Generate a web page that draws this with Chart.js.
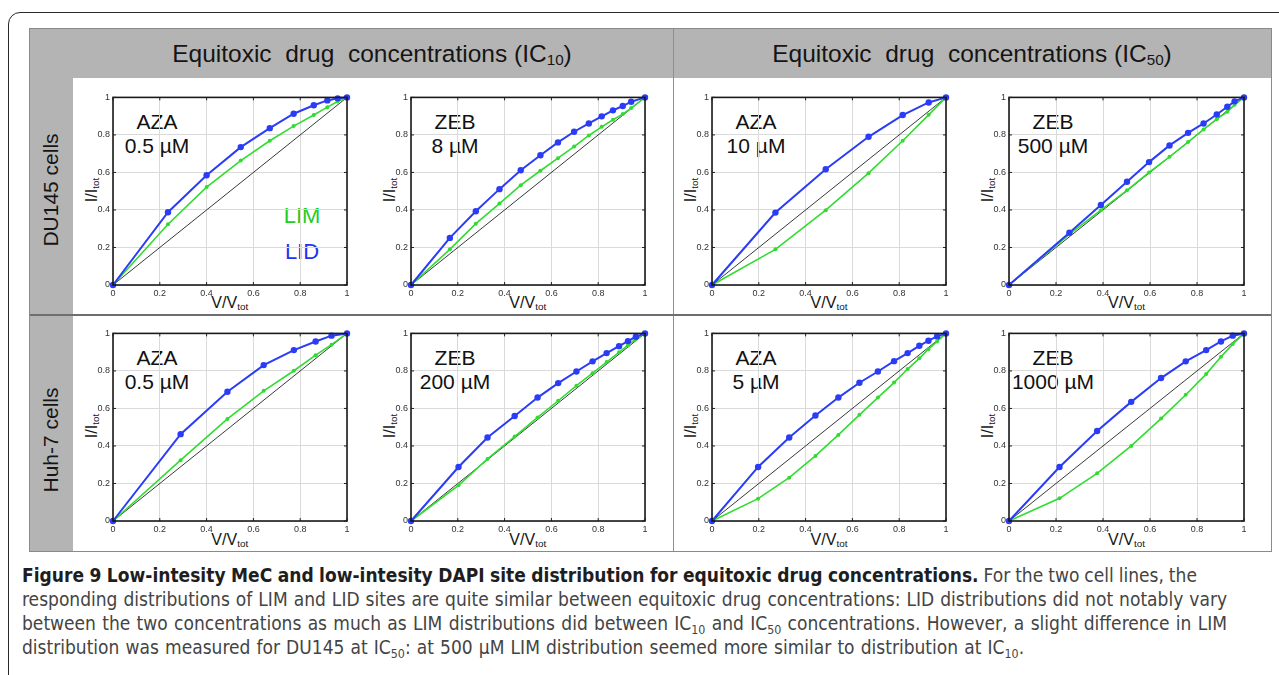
<!DOCTYPE html>
<html>
<head>
<meta charset="utf-8">
<script src="https://cdn.jsdelivr.net/npm/chart.js@4.4.1/dist/chart.umd.min.js"></script>
<style>
  html, body { margin: 0; padding: 0; background: #fff; }
  body { width: 1279px; height: 675px; position: relative; overflow: hidden; font-family: "Liberation Sans", Arial, sans-serif; }
  .abs { position: absolute; }
  #outer { left: 8px; top: 12px; width: 1300px; height: 700px; border: 1.5px solid #2a2a2a; border-radius: 12px; }
  #frame { left: 29px; top: 28px; width: 1243px; height: 524px; border: 1px solid #8a8a8a; box-sizing: border-box; background: #fff; }
  .band { background: #b4b4b4; }
  .hdr { font-size: 24.5px; color: #151515; white-space: nowrap; transform: translate(-50%, -50%); }
  .hdr sub, .axt sub { font-size: 0.62em; vertical-align: -0.25em; }
  .rowlab { font-size: 21px; color: #151515; white-space: nowrap; transform: translate(-50%, -50%) rotate(-90deg); }
  .axt { font-size: 16px; color: #151515; white-space: nowrap; transform: translate(-50%, -50%); }
  .axt.y { transform: translate(-50%, -50%) rotate(-90deg); }
  .note { font-size: 21px; color: #111; white-space: nowrap; transform: translateX(-50%); line-height: 24px; text-align: center; }
  .leg { font-size: 22px; white-space: nowrap; transform: translate(-50%, -50%); }
  .cap { left: 22px; height: 24px; line-height: 24px; white-space: nowrap; color: #444;
         font-family: "DejaVu Sans Condensed", "Liberation Sans Narrow", sans-serif; font-size: 19px; }
  .cap b { color: #1e1e1e; }
  .cap sub { font-size: 0.65em; vertical-align: -0.3em; line-height: 0; }
  canvas { position: absolute; }
</style>
</head>
<body>
<div id="outer" class="abs"></div>
<div id="frame" class="abs"></div>
<div class="abs band" style="left:30px; top:29px; width:1241px; height:49px;"></div>
<div class="abs band" style="left:30px; top:29px; width:43px; height:522px;"></div>
<div class="abs" style="left:673px; top:29px; width:1px; height:522px; background:#8f8f8f;"></div>
<div class="abs" style="left:30px; top:314px; width:1241px; height:2px; background:#6e6e6e;"></div>
<div id="labels"></div>

<script>
// column headers and row labels
const headers = ['Equitoxic&nbsp; drug&nbsp; concentrations (IC<sub>10</sub>)', 'Equitoxic&nbsp; drug&nbsp; concentrations (IC<sub>50</sub>)'];
const cellLines = ['DU145 cells', 'Huh-7 cells'];
const drugs = ['AZA', 'ZEB', 'AZA', 'ZEB', 'AZA', 'ZEB', 'AZA', 'ZEB'];
const doses = ['0.5 µM', '8 µM', '10 µM', '500 µM', '0.5 µM', '200 µM', '5 µM', '1000 µM'];
const seriesNames = ['LIM', 'LID'];
const tickValues = [0, 0.2, 0.4, 0.6, 0.8, 1];

// reference diagonal
const diagX = [0, 1];
const diagY = [0, 1];

// DU145, AZA 0.5 µM (IC10)
const duAzaLowX   = [0, 0.235, 0.40, 0.546, 0.670, 0.772, 0.858, 0.916, 0.960, 1];
const duAzaLowLid = [0, 0.388, 0.585, 0.735, 0.836, 0.913, 0.958, 0.984, 0.995, 1];
const duAzaLowLim = [0, 0.324, 0.522, 0.663, 0.769, 0.847, 0.906, 0.948, 0.978, 1];

// DU145, ZEB 8 µM (IC10)
const duZebLowX   = [0, 0.166, 0.277, 0.378, 0.469, 0.553, 0.628, 0.697, 0.760, 0.815, 0.863, 0.905, 0.941, 1];
const duZebLowLid = [0, 0.251, 0.393, 0.511, 0.612, 0.692, 0.760, 0.817, 0.861, 0.899, 0.931, 0.954, 0.977, 1];
const duZebLowLim = [0, 0.190, 0.327, 0.434, 0.532, 0.609, 0.676, 0.738, 0.797, 0.843, 0.881, 0.911, 0.943, 1];

// DU145, AZA 10 µM (IC50)
const duAzaHighX   = [0, 0.271, 0.486, 0.669, 0.815, 0.926, 1];
const duAzaHighLid = [0, 0.386, 0.617, 0.790, 0.906, 0.973, 1];
const duAzaHighLim = [0, 0.190, 0.399, 0.596, 0.769, 0.907, 1];

// DU145, ZEB 500 µM (IC50)
const duZebHighX   = [0, 0.257, 0.391, 0.502, 0.596, 0.683, 0.762, 0.828, 0.884, 0.929, 0.960, 1];
const duZebHighLid = [0, 0.279, 0.427, 0.550, 0.655, 0.744, 0.811, 0.861, 0.909, 0.950, 0.979, 1];
const duZebHighLim = [0, 0.270, 0.399, 0.505, 0.600, 0.683, 0.762, 0.829, 0.884, 0.923, 0.961, 1];

// Huh-7, AZA 0.5 µM (IC10)
const huAzaLowX   = [0, 0.289, 0.489, 0.644, 0.773, 0.866, 0.934, 1];
const huAzaLowLid = [0, 0.463, 0.689, 0.831, 0.911, 0.957, 0.988, 1];
const huAzaLowLim = [0, 0.324, 0.544, 0.694, 0.801, 0.884, 0.940, 1];

// Huh-7, ZEB 200 µM (IC10)
const huZebLowX   = [0, 0.203, 0.327, 0.443, 0.541, 0.629, 0.707, 0.776, 0.836, 0.889, 0.927, 0.961, 1];
const huZebLowLid = [0, 0.288, 0.445, 0.560, 0.658, 0.735, 0.797, 0.851, 0.895, 0.932, 0.959, 0.982, 1];
const huZebLowLim = [0, 0.190, 0.331, 0.450, 0.552, 0.641, 0.721, 0.788, 0.847, 0.899, 0.937, 0.970, 1];

// Huh-7, AZA 5 µM (IC50)
const huAzaHighX   = [0, 0.197, 0.330, 0.442, 0.540, 0.630, 0.709, 0.778, 0.836, 0.886, 0.925, 0.962, 1];
const huAzaHighLid = [0, 0.288, 0.445, 0.562, 0.658, 0.737, 0.797, 0.852, 0.895, 0.934, 0.961, 0.984, 1];
const huAzaHighLim = [0, 0.119, 0.231, 0.347, 0.459, 0.566, 0.658, 0.738, 0.810, 0.867, 0.916, 0.957, 1];

// Huh-7, ZEB 1000 µM (IC50)
const huZebHighX   = [0, 0.215, 0.375, 0.520, 0.647, 0.752, 0.839, 0.902, 0.952, 1];
const huZebHighLid = [0, 0.288, 0.480, 0.635, 0.762, 0.851, 0.911, 0.957, 0.988, 1];
const huZebHighLim = [0, 0.121, 0.254, 0.400, 0.546, 0.673, 0.783, 0.875, 0.943, 1];

const panelData = [
  [duAzaLowX, duAzaLowLid, duAzaLowLim], [duZebLowX, duZebLowLid, duZebLowLim],
  [duAzaHighX, duAzaHighLid, duAzaHighLim], [duZebHighX, duZebHighLid, duZebHighLim],
  [huAzaLowX, huAzaLowLid, huAzaLowLim], [huZebLowX, huZebLowLid, huZebLowLim],
  [huAzaHighX, huAzaHighLid, huAzaHighLim], [huZebHighX, huZebHighLid, huZebHighLim]
];

// layout (pixels of the plot boxes)
const colLeft = [113, 411, 712, 1009];
const colWidth = [233.5, 233.5, 234, 235];
const rowTop = [96.5, 332.7];
const plotH = 187.5;
const padL = 40, padT = 8, padR = 10, padB = 16;

const BLUE = '#2b3cf6';
const GREEN = '#30dc30';

const labels = document.getElementById('labels');
function addText(cls, html, x, y, extra) {
  const d = document.createElement('div');
  d.className = 'abs ' + cls;
  d.style.left = x + 'px';
  d.style.top = y + 'px';
  if (extra) Object.assign(d.style, extra);
  d.innerHTML = html;
  labels.appendChild(d);
  return d;
}

addText('hdr', headers[0], 372, 54);
addText('hdr', headers[1], 972, 54);
addText('rowlab', cellLines[0], 51, 190);
addText('rowlab', cellLines[1], 51, 440);

function pts(xs, ys) {
  return xs.map((x, i) => ({ x: x, y: ys[i] }));
}

function fmtTick(v) {
  if (Math.abs(v) < 1e-9) return '0';
  if (Math.abs(v - 1) < 1e-9) return '1';
  return v.toFixed(1);
}

// box and inward tick marks in a MATLAB look
const boxPlugin = {
  id: 'box',
  afterDatasetsDraw(chart) {
    const { ctx, chartArea: a, scales } = chart;
    ctx.save();
    ctx.strokeStyle = '#222';
    ctx.lineWidth = 1;
    ctx.beginPath();
    tickValues.forEach(v => {
      const px = scales.x.getPixelForValue(v);
      const py = scales.y.getPixelForValue(v);
      ctx.moveTo(px, a.bottom); ctx.lineTo(px, a.bottom - 3);
      ctx.moveTo(px, a.top); ctx.lineTo(px, a.top + 3);
      ctx.moveTo(a.left, py); ctx.lineTo(a.left + 3, py);
      ctx.moveTo(a.right, py); ctx.lineTo(a.right - 3, py);
    });
    ctx.stroke();
    ctx.lineWidth = 1.6;
    ctx.strokeStyle = '#1a1a1a';
    ctx.strokeRect(a.left, a.top, a.right - a.left, a.bottom - a.top);
    ctx.restore();
  }
};

panelData.forEach((pd, i) => {
  const c = i % 4, r = Math.floor(i / 4);
  const L = colLeft[c], T = rowTop[r], W = colWidth[c];
  const cv = document.createElement('canvas');
  const cw = Math.round(W + padL + padR), ch = Math.round(plotH + padT + padB);
  cv.width = cw; cv.height = ch;
  cv.style.width = cw + 'px'; cv.style.height = ch + 'px';
  cv.style.left = (L - padL) + 'px';
  cv.style.top = (T - padT) + 'px';
  document.body.appendChild(cv);

  const axisCommon = {
    type: 'linear', min: 0, max: 1,
    ticks: { stepSize: 0.2, font: { size: 9, family: 'Liberation Sans' }, color: '#333', padding: 3, maxRotation: 0, callback: fmtTick },
    grid: { color: '#dadada', lineWidth: 1, drawTicks: false },
    border: { display: false }
  };

  new Chart(cv.getContext('2d'), {
    type: 'scatter',
    data: {
      datasets: [
        { label: seriesNames[1], data: pts(pd[0], pd[1]), showLine: true, borderColor: BLUE, backgroundColor: BLUE,
          borderWidth: 2, pointRadius: 3.2, pointBorderWidth: 0, order: 1, clip: false },
        { label: seriesNames[0], data: pts(pd[0], pd[2]), showLine: true, borderColor: GREEN, backgroundColor: GREEN,
          borderWidth: 1.6, pointRadius: 2, pointBorderWidth: 0, order: 2, clip: false },
        { label: 'diag', data: pts(diagX, diagY), showLine: true, borderColor: '#3a3a3a', borderWidth: 1,
          pointRadius: 0, order: 3 }
      ]
    },
    options: {
      responsive: false,
      animation: false,
      events: [],
      layout: { padding: { top: padT, right: padR, left: 0, bottom: 0 }, autoPadding: false },
      plugins: { legend: { display: false }, tooltip: { enabled: false } },
      scales: {
        x: Object.assign({}, axisCommon, { afterFit: s => { s.height = padB; } }),
        y: Object.assign({}, axisCommon, { afterFit: s => { s.width = padL; } })
      }
    },
    plugins: [boxPlugin]
  });

  const top = r === 0 ? 303 : 540;
  addText('axt', 'V/V<sub>tot</sub>', L + W / 2, top);
  addText('axt y', 'I/I<sub>tot</sub>', L - 21, T + plotH / 2);
  addText('note', drugs[i] + '<br>' + doses[i], L + 44, T + 13);
});

addText('leg', seriesNames[0], 302, 216, { color: '#22cc22' });
addText('leg', seriesNames[1], 302, 252, { color: '#2233ee' });

// caption, each line stretched to the width it has in the figure
const capLines = [
  ['<b>Figure 9 Low-intesity MeC and low-intesity DAPI site distribution for equitoxic drug concentrations.</b> For the two cell lines, the', 563, 1175],
  ['responding distributions of LIM and LID sites are quite similar between equitoxic drug concentrations: LID distributions did not notably vary', 587, 1205],
  ['between the two concentrations as much as LIM distributions did between IC<sub>10</sub> and IC<sub>50</sub> concentrations. However, a slight difference in LIM', 611, 1205],
  ['distribution was measured for DU145 at IC<sub>50</sub>: at 500 µM LIM distribution seemed more similar to distribution at IC<sub>10</sub>.', 635, 1002]
];
capLines.forEach(l => {
  const d = addText('cap', l[0], 22, l[1]);
  const w = d.getBoundingClientRect().width;
  const spaces = (d.textContent.match(/ /g) || []).length;
  if (spaces) d.style.wordSpacing = ((l[2] - w) / spaces).toFixed(2) + 'px';
});
</script>
</body>
</html>
